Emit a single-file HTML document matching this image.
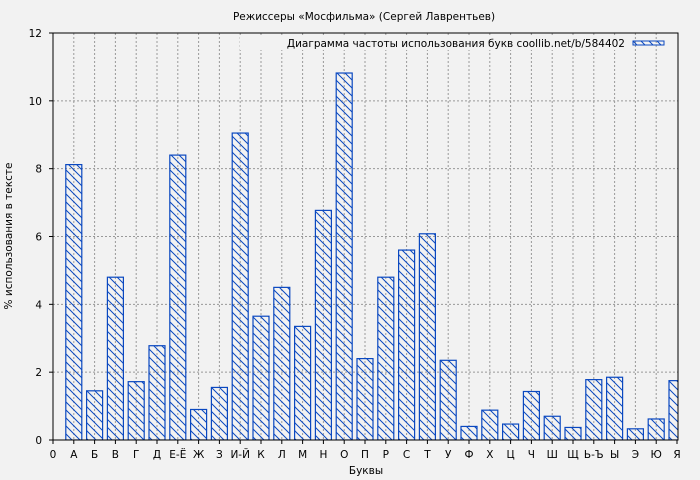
<!DOCTYPE html>
<html><head><meta charset="utf-8"><style>body{margin:0;background:#f2f2f2}svg{display:block}</style></head><body>
<svg width="700" height="480" xmlns="http://www.w3.org/2000/svg" font-family="DejaVu Sans, Liberation Sans, sans-serif">
<defs><pattern id="h" patternUnits="userSpaceOnUse" width="8" height="8"><path d="M-2,-2 L10,10 M-2,6 L2,10 M6,-2 L10,2" stroke="#0a48c0" stroke-width="1"/></pattern>
<clipPath id="c"><rect x="53" y="33" width="625" height="407"/></clipPath></defs>
<rect width="700" height="480" fill="#f2f2f2"/>
<text x="364" y="20" font-size="10.5" text-anchor="middle">Режиссеры «Мосфильма» (Сергей Лаврентьев)</text>
<g id="grid" stroke="#999" stroke-dasharray="2,2" stroke-width="1"></g>
<g id="bars" clip-path="url(#c)"></g>
<rect x="53" y="33" width="625" height="407" fill="none" stroke="#000" stroke-width="1"/>
<g id="ax" font-size="10.5"></g>
<rect x="240" y="35" width="390" height="15" fill="#f2f2f2"/>
<text x="625" y="47" font-size="10.5" text-anchor="end">Диаграмма частоты использования букв coollib.net/b/584402</text>
<rect x="633" y="41" width="31" height="4" fill="url(#h)" stroke="#0a48c0"/>
<text x="366" y="474" font-size="10.5" text-anchor="middle">Буквы</text>
<text transform="translate(12,236) rotate(-90)" font-size="10.5" text-anchor="middle">% использования в тексте</text>
<script>
var L=["0","А","Б","В","Г","Д","Е-Ё","Ж","З","И-Й","К","Л","М","Н","О","П","Р","С","Т","У","Ф","Х","Ц","Ч","Ш","Щ","Ь-Ъ","Ы","Э","Ю","Я"];
var V=[8.12,1.45,4.8,1.72,2.78,8.4,0.9,1.55,9.05,3.65,4.5,3.35,6.77,10.82,2.4,4.8,5.6,6.08,2.35,0.4,0.88,0.47,1.43,0.7,0.37,1.78,1.85,0.33,0.62,1.75];
var ns="http://www.w3.org/2000/svg",g=document.getElementById("grid"),b=document.getElementById("bars"),a=document.getElementById("ax");
function el(p,t,o,tx){var e=document.createElementNS(ns,t);for(var k in o)e.setAttribute(k,o[k]);if(tx)e.textContent=tx;p.appendChild(e);}
var dx=20.8,y0=440,sy=407/12;
for(var i=0;i<=30;i++){var x=53+i*dx;
 if(i>0&&i<30)el(g,"line",{x1:x,y1:33,x2:x,y2:440});
 el(a,"line",{x1:x,y1:440,x2:x,y2:444,stroke:"#000"});
 el(a,"text",{x:x,y:458,"text-anchor":"middle"},L[i]);
 if(i>0){var h=V[i-1]*sy;el(b,"rect",{x:x-8,y:y0-h,width:16,height:h,fill:"url(#h)",stroke:"#0a48c0","stroke-width":1.2});}
}
for(var j=0;j<=12;j+=2){var y=y0-j*sy;
 if(j>0&&j<12)el(g,"line",{x1:53,y1:y,x2:678,y2:y});
 el(a,"line",{x1:49,y1:y,x2:53,y2:y,stroke:"#000"});
 el(a,"text",{x:42,y:y+4,"text-anchor":"end"},String(j));
}
</script>
</svg>
</body></html>
